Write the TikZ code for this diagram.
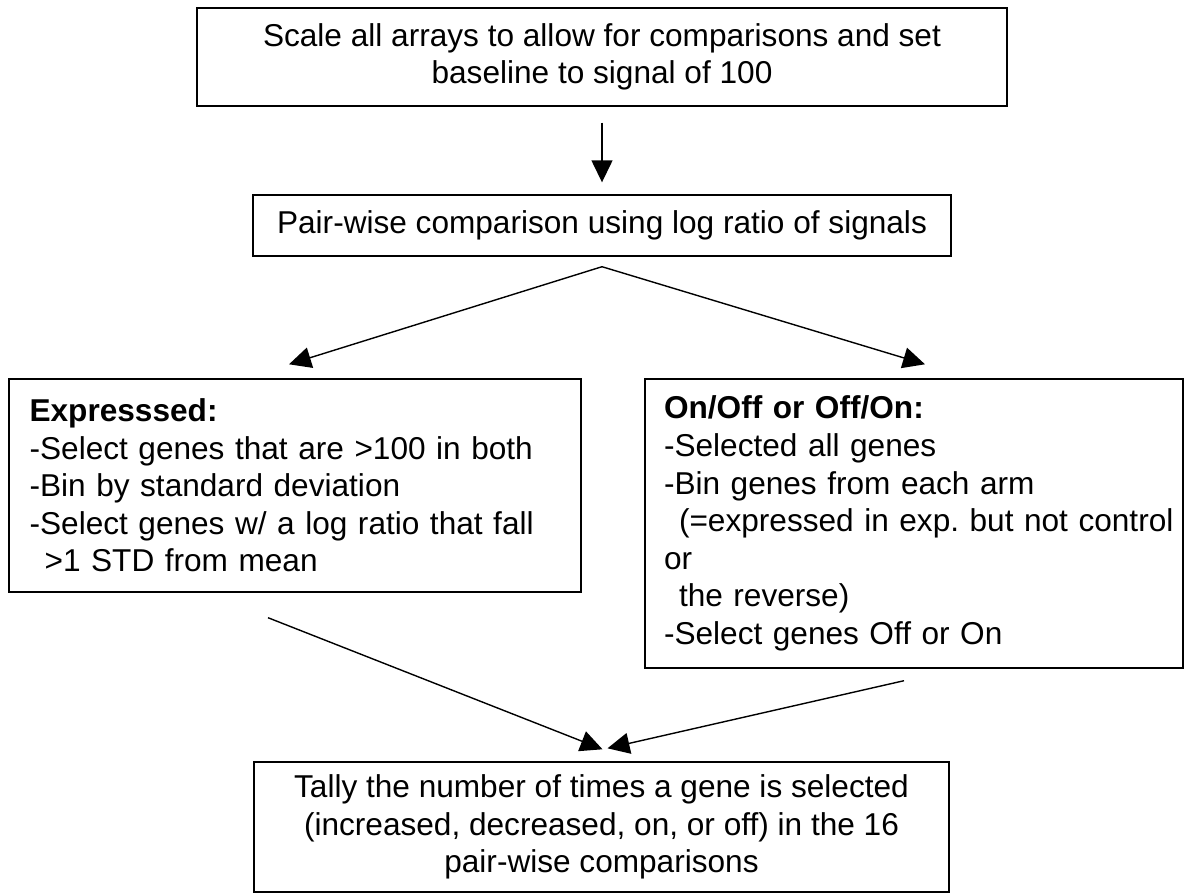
\documentclass[tikz,border=0pt]{standalone}
\usepackage{fontspec}
\setmainfont{Liberation Sans}
\usepackage{tikz}
\usetikzlibrary{calc, arrows.meta, positioning}
\frenchspacing
\tikzstyle{boxc}=[shape=rectangle, draw=black, line width=0.7pt, align=center, inner sep=0pt, font=\fontsize{15.8pt}{18.8pt}\selectfont]
\tikzstyle{boxl}=[shape=rectangle, draw=black, line width=0.7pt, align=left, inner ysep=0pt, inner xsep=10.3pt, font=\fontsize{15.8pt}{18.8pt}\selectfont]
\tikzstyle{arr}=[line width=0.7pt, -{Triangle[length=11pt,width=10.5pt]}]

\begin{document}
\begin{tikzpicture}[x=0.5pt, y=0.5pt]
\useasboundingbox (0,0) rectangle (1185,-895);
\node [boxc, minimum width=405pt, minimum height=49pt](scale) at (602,-57){Scale all arrays to allow for comparisons and set\\baseline to signal of 100};
\node [boxc, minimum width=349pt, minimum height=30.5pt](pair) at (602,-225.5){Pair-wise comparison using log ratio of signals};
\node [boxl, text width=265.4pt, minimum height=106.5pt](expr) at (295,-485.5){\textbf{Expresssed:}\\-Select genes that are >100 in both\\-Bin by standard deviation\\-Select genes w/ a log ratio that fall\\\hspace*{7.5pt}>1 STD from mean};
\node [boxl, inner xsep=9.5pt, text width=250pt, minimum height=144.5pt](onoff) at (914,-523.5){\textbf{On/Off or Off/On:}\\-Selected all genes\\-Bin genes from each arm\\\hspace*{7.5pt}\mbox{(=expressed in exp. but not control}\\or\\\hspace*{7.5pt}the reverse)\\-Select genes Off or On};
\node [boxc, minimum width=347.5pt, minimum height=65pt](tally) at (601.5,-827){Tally the number of times a gene is selected\\(increased, decreased, on, or off) in the 16\\pair-wise comparisons};
\coordinate (apex) at ($(pair.south)+(0,-10)$);
\draw [arr] ($(scale.south)+(0,-16)$) -- ($(pair.north)+(0,12)$);
\draw [arr] (apex) -- ($(expr.north)+(-6,14)$);
\draw [arr] (apex) -- ($(onoff.north)+(11,14)$);
\draw [arr] ($(expr.south)+(-27,-25)$) -- ($(tally.north)+(1,12)$);
\draw [arr] ($(onoff.south)+(-10,-12)$) -- ($(tally.north)+(6,13)$);
\end{tikzpicture}
\end{document}
